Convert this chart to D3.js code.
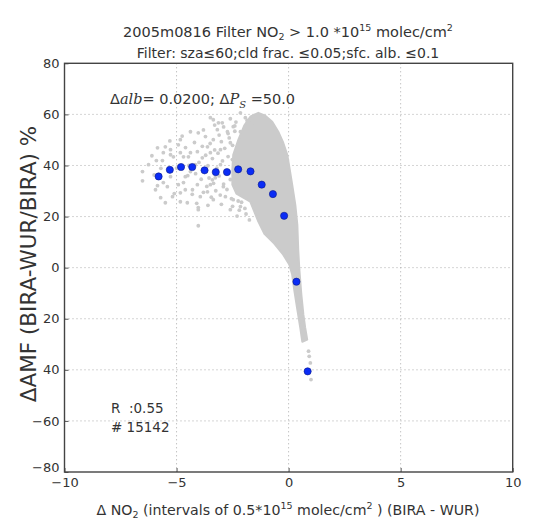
<!DOCTYPE html>
<html>
<head>
<meta charset="utf-8">
<script src="https://cdn.jsdelivr.net/npm/d3@7"></script>
<style>
  body { margin: 0; background: #fff; }
  svg text { font-family: "DejaVu Sans", sans-serif; fill: #333; }
  .grid line { stroke: #aaa; stroke-dasharray: 1,3; stroke-width: 1; }
  .math { font-family: "DejaVu Serif", serif; font-style: italic; }
</style>
</head>
<body>
<div id="root"></div>
<script>
'use strict';

// axis ticks
var xTicks = [-10, -5, 0, 5, 10];
var xTickLabels = ['\u221210', '\u22125', '0', '5', '10'];
var yTicks = [-80, -60, -40, -20, 0, 20, 40, 60, 80];
var yTickLabels = ['\u221280', '\u221260', '40', '20', '0', '20', '40', '60', '80'];

// binned means (blue)
var binX = [-5.8, -5.3, -4.8, -4.3, -3.75, -3.25, -2.75, -2.25, -1.7, -1.2, -0.7, -0.2, 0.35, 0.85];
var binY = [35.7, 38.3, 39.4, 39.4, 38.1, 37.4, 37.4, 38.5, 37.7, 32.5, 28.8, 20.3, -5.5, -40.6];

// outline of the dense part of the grey cloud
var cloudOutline = [
  [-1.71, 59.1], [-1.35, 60.6], [-1.04, 59.5], [-0.73, 57.1], [-0.46, 53.2], [-0.24, 48.9],
  [-0.06, 44.2], [0.03, 39.5], [0.16, 32.5], [0.30, 24.6], [0.39, 16.8], [0.43, 7.0],
  [0.48, -0.8], [0.57, -10.6], [0.66, -18.4], [0.74, -23.5], [0.83, -28.2], [0.61, -29.0],
  [0.52, -23.5], [0.39, -16.4], [0.25, -8.6], [0.16, -2.7], [0.03, 1.2], [-0.24, 5.1],
  [-0.64, 9.4], [-1.08, 13.3], [-1.35, 18.0], [-1.53, 21.9], [-1.71, 25.8], [-2.02, 27.4],
  [-2.33, 29.0], [-2.51, 32.5], [-2.51, 38.3], [-2.47, 44.2], [-2.24, 50.1], [-1.98, 55.6]
];

// grey points outside the dense part
var scatterX = [-6.52, -6.52, -5.85, -5.50, -5.90, -5.63, -5.59, -5.94, -5.85, -5.59, -5.41, -5.27,
  -4.83, -4.47, -4.07, -3.85, -3.49, -5.18, -4.83, -4.69, -4.29, -4.07, -3.94, -3.62, -3.36,
  -4.03, -4.52, -4.83, -4.92, -5.27, -4.61, -4.38, -4.83, -4.92, -5.27, -4.03, -3.62, -3.36,
  -3.18, -3.36, -2.96, -2.73, -3.04, -2.60, -4.38, -4.69, -5.14, -4.61, -4.03, -4.03, -2.82,
  -2.47, -2.15, -2.60, -2.91, -3.49, -3.49, -3.13, -2.15, -1.93, -2.47, -2.15, -1.62, -3.71,
  -6.25, -5.71, -5.50, -3.04, -2.78, -3.27, -2.51, -3.71, -3.40, -4.16, -4.38,
  -4.15, -4.00, -3.90, -3.85, -3.80, -3.70, -3.65, -3.60, -3.55, -3.50, -3.45, -3.40, -3.35,
  -3.30, -3.25, -3.20, -3.15, -3.10, -3.05, -3.00, -2.95, -2.90, -2.85, -2.80, -2.75, -2.70,
  -2.65, -2.60, -2.55, -2.50, -2.45, -2.40, -2.70, -2.90, -2.35, -2.60, -3.10, -3.30, -3.80,
  -4.20, -4.30, -4.10, -3.60, -3.00, -2.50, -2.20, -1.90, -1.75, -2.30, -4.45, -4.60, -5.00,
  -5.10, -5.70, -6.00, -6.10, -5.30, -4.75, -4.50,
  -2.10, -1.95, -2.25, -1.85, -2.40, -2.05,
  0.89, 0.92, 0.97, 1.00];
var scatterY = [37.6, 34.0, 46.9, 47.3, 41.9, 41.9, 45.0, 30.5, 32.1, 33.3, 31.7, 44.2,
  45.0, 43.4, 45.4, 43.0, 45.0, 27.8, 29.3, 33.3, 30.5, 32.5, 27.8, 29.7, 26.6,
  22.7, 25.4, 25.8, 32.5, 35.6, 35.6, 53.2, 50.1, 48.1, 46.2, 52.8, 47.3, 50.1,
  54.0, 57.9, 56.7, 53.2, 46.2, 48.9, 45.0, 43.4, 43.4, 30.5, 23.5, 16.4, 27.8,
  26.6, 23.9, 22.7, 31.7, 32.5, 58.7, 56.7, 60.6, 58.7, 55.2, 53.2, 56.7, 51.3,
  40.3, 27.4, 25.4, 40.3, 37.6, 35.2, 42.3, 38.3, 34.4, 40.3, 37.6,
  36.8, 41.2, 34.6, 47.5, 29.5, 44.0, 31.8, 39.9, 35.1, 48.6, 27.6, 42.7, 33.0,
  46.1, 30.1, 39.0, 44.8, 35.9, 28.4, 49.3, 41.8, 32.7, 46.7, 37.2, 30.6, 43.5,
  50.8, 34.5, 27.0, 47.9, 40.6, 53.4, 52.5, 55.1, 57.0, 58.3, 51.9, 55.8, 53.9,
  49.0, 28.7, 25.2, 24.4, 24.8, 24.0, 22.5, 21.0, 18.7, 20.2, 40.0, 47.0, 39.0,
  29.0, 38.9, 36.3, 43.8, 49.6, 51.5, 36.0,
  25.6, 23.2, 26.1, 57.6, 55.5, 53.0,
  -32.7, -34.7, -37.3, -43.8];

var W = 537, H = 521;
var margin = { left: 64.5, right: 24.3, top: 63.3, bottom: 49 };
var iw = W - margin.left - margin.right;
var ih = H - margin.top - margin.bottom;

var svg = d3.select('#root').append('svg').attr('width', W).attr('height', H);
var g = svg.append('g').attr('transform', 'translate(' + margin.left + ',' + margin.top + ')');

var x = d3.scaleLinear().domain([-10, 10]).range([0, iw]);
var y = d3.scaleLinear().domain([-80, 80]).range([ih, 0]);

// grid
g.append('g').attr('class', 'grid')
  .selectAll('line.gx').data(xTicks.slice(1, -1)).enter().append('line')
  .attr('x1', function (d) { return x(d); }).attr('x2', function (d) { return x(d); })
  .attr('y1', 0).attr('y2', ih);
g.append('g').attr('class', 'grid')
  .selectAll('line.gy').data(yTicks.slice(1, -1)).enter().append('line')
  .attr('y1', function (d) { return y(d); }).attr('y2', function (d) { return y(d); })
  .attr('x1', 0).attr('x2', iw);

// grey cloud
g.append('path')
  .datum(cloudOutline)
  .attr('d', d3.line().x(function (d) { return x(d[0]); }).y(function (d) { return y(d[1]); }).curve(d3.curveLinearClosed))
  .attr('fill', '#cbcbcb')
  .attr('stroke', '#cbcbcb')
  .attr('stroke-width', 2)
  .attr('stroke-linejoin', 'round');

g.selectAll('circle.sc').data(scatterX).enter().append('circle')
  .attr('class', 'sc')
  .attr('cx', function (d) { return x(d); })
  .attr('cy', function (d, i) { return y(scatterY[i]); })
  .attr('r', 1.9)
  .attr('fill', '#cbcbcb');

// binned means
g.selectAll('circle.bin').data(binX).enter().append('circle')
  .attr('class', 'bin')
  .attr('cx', function (d) { return x(d); })
  .attr('cy', function (d, i) { return y(binY[i]); })
  .attr('r', 3.6)
  .attr('fill', '#0a2cf5')
  .attr('stroke', '#0a1a8a')
  .attr('stroke-width', 0.6);

// axes
var xAxis = g.append('g').attr('transform', 'translate(0,' + ih + ')')
  .call(d3.axisBottom(x).tickValues(xTicks).tickSize(-4).tickPadding(6)
    .tickFormat(function (d, i) { return xTickLabels[i]; }));
var yAxis = g.append('g')
  .call(d3.axisLeft(y).tickValues(yTicks).tickSize(-4).tickPadding(5)
    .tickFormat(function (d, i) { return yTickLabels[i]; }));
[xAxis, yAxis].forEach(function (a) {
  a.select('.domain').remove();
  a.selectAll('line').attr('stroke', '#555');
  a.selectAll('text').attr('font-size', 13).attr('fill', '#333').style('font-family', '"DejaVu Sans", sans-serif');
});
yAxis.selectAll('.tick').filter(function (d) { return d === -80; }).select('text').attr('dy', '-0.05em');

g.append('rect')
  .attr('width', iw).attr('height', ih)
  .attr('fill', 'none').attr('stroke', '#444').attr('stroke-width', 1.4);

// titles
var t1 = svg.append('text').attr('x', 288).attr('y', 37).attr('text-anchor', 'middle').attr('font-size', 14.5);
t1.append('tspan').text('2005m0816 Filter NO');
t1.append('tspan').attr('font-size', 9.5).attr('dy', 3).text('2');
t1.append('tspan').attr('dy', -3).text(' > 1.0 *10');
t1.append('tspan').attr('font-size', 9.5).attr('dy', -6).text('15');
t1.append('tspan').attr('dy', 6).text('  molec/cm');
t1.append('tspan').attr('font-size', 9.5).attr('dy', -6).text('2');

svg.append('text').attr('x', 288).attr('y', 58).attr('text-anchor', 'middle').attr('font-size', 14)
  .text('Filter: sza\u226460;cld frac. \u22640.05;sfc. alb. \u22640.1');

// annotation
var an = svg.append('text').attr('x', 110).attr('y', 104).attr('font-size', 14.5);
an.append('tspan').text('\u0394');
an.append('tspan').attr('class', 'math').text('alb');
an.append('tspan').text('= 0.0200; \u0394');
an.append('tspan').attr('class', 'math').text('P');
an.append('tspan').attr('class', 'math').attr('font-size', 10).attr('dy', 4).text('S');
an.append('tspan').attr('dy', -4).text(' =50.0');

svg.append('text').attr('x', 111).attr('y', 413).attr('font-size', 13.5).attr('xml:space', 'preserve').text('R  :0.55');
svg.append('text').attr('x', 111).attr('y', 432).attr('font-size', 13.5).text('# 15142');

// axis labels
svg.append('text')
  .attr('transform', 'translate(36,264) rotate(-90)')
  .attr('text-anchor', 'middle').attr('font-size', 21.5)
  .text('\u0394AMF (BIRA-WUR/BIRA) %');

var xl = svg.append('text').attr('x', 288).attr('y', 515).attr('text-anchor', 'middle').attr('font-size', 14.2);
xl.append('tspan').text('\u0394 NO');
xl.append('tspan').attr('font-size', 9.5).attr('dy', 3).text('2');
xl.append('tspan').attr('dy', -3).text(' (intervals of 0.5*10');
xl.append('tspan').attr('font-size', 9.5).attr('dy', -6).text('15');
xl.append('tspan').attr('dy', 6).text('  molec/cm');
xl.append('tspan').attr('font-size', 9.5).attr('dy', -6).text('2');
xl.append('tspan').attr('dy', 6).text(' ) (BIRA - WUR)');
</script>
</body>
</html>
